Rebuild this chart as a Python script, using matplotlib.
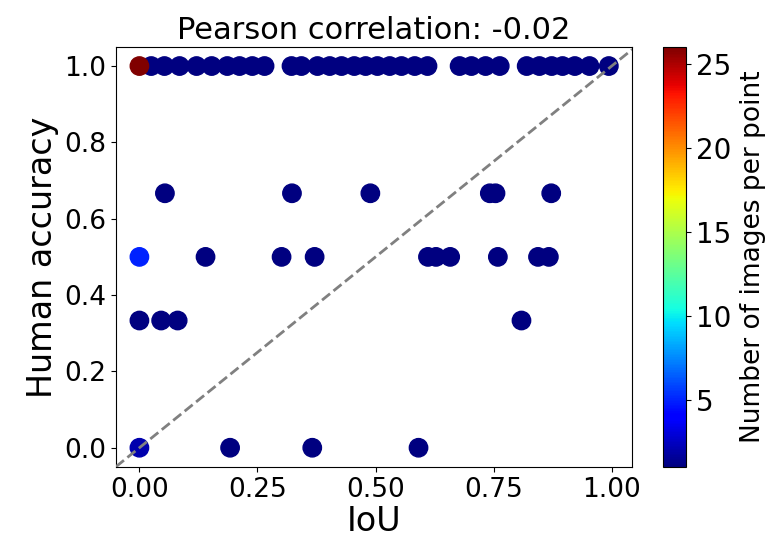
import matplotlib
matplotlib.use("Agg")
import matplotlib.pyplot as plt
import numpy as np

# Data: (IoU, human accuracy, number of images per point)
iou_top = [0.0, 0.025, 0.053, 0.085, 0.121, 0.153, 0.186, 0.212, 0.239, 0.265,
           0.322, 0.343, 0.377, 0.403, 0.428, 0.455, 0.479, 0.504, 0.530, 0.555, 0.583, 0.610,
           0.678, 0.703, 0.733, 0.763,
           0.820, 0.847, 0.873, 0.896, 0.922, 0.953, 0.994]
cnt_top = [26] + [1] * 32

iou_667 = [0.054, 0.323, 0.489, 0.742, 0.754, 0.872]
iou_500 = [0.0, 0.140, 0.301, 0.371, 0.611, 0.628, 0.658, 0.759, 0.844, 0.867]
cnt_500 = [5] + [1] * 9
iou_333 = [0.0, 0.046, 0.081, 0.809]
iou_000 = [0.0, 0.192, 0.366, 0.591]
cnt_000 = [2, 1, 1, 1]

x = np.array(iou_top + iou_667 + iou_500 + iou_333 + iou_000)
y = np.array([1.0] * len(iou_top) + [2 / 3] * len(iou_667) + [0.5] * len(iou_500)
             + [1 / 3] * len(iou_333) + [0.0] * len(iou_000))
c = np.array(cnt_top + [1] * len(iou_667) + cnt_500 + [1] * len(iou_333) + cnt_000)

order = np.argsort(c, kind="stable")
x, y, c = x[order], y[order], c[order]

fig = plt.figure(figsize=(7.73, 5.46), dpi=100)
ax = fig.add_axes([0.150, 0.145, 0.668, 0.769])
cax = fig.add_axes([0.858, 0.145, 0.030, 0.769])

sc = ax.scatter(x, y, c=c, cmap="jet", vmin=1, vmax=26, s=175, zorder=2)
ax.margins(0.05)
ax.autoscale_view()
ax.axline((0, 0), slope=1, color="gray", linestyle="--", linewidth=2, zorder=3)

ax.set_xticks([0.0, 0.25, 0.5, 0.75, 1.0])
ax.set_xticklabels(["0.00", "0.25", "0.50", "0.75", "1.00"])
ax.set_yticks([0.0, 0.2, 0.4, 0.6, 0.8, 1.0])
ax.tick_params(labelsize=19)
ax.set_xlabel("IoU", fontsize=24, labelpad=2)
ax.set_ylabel("Human accuracy", fontsize=24)
ax.set_title("Pearson correlation: -0.02", fontsize=22)

cb = fig.colorbar(sc, cax=cax)
cb.set_ticks([5, 10, 15, 20, 25])
cb.ax.tick_params(labelsize=20)
cb.set_label("Number of images per point", fontsize=19, labelpad=6)

fig.savefig("out.png", dpi=100)
